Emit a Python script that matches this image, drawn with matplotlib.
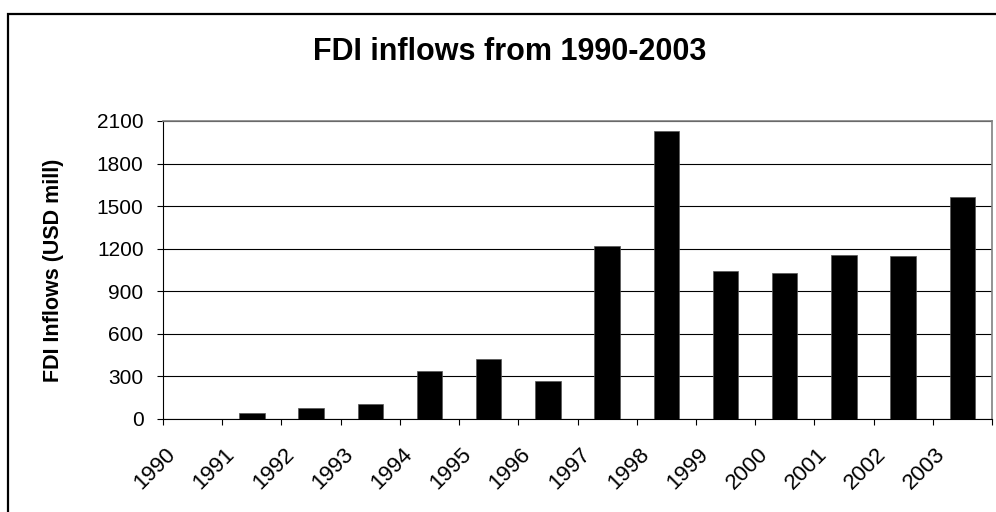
import matplotlib
matplotlib.use("Agg")
import matplotlib.pyplot as plt
import matplotlib.transforms as mtransforms
from matplotlib.patches import Rectangle

plt.rcParams["font.family"] = ["Liberation Sans", "DejaVu Sans"]

years = ["1990", "1991", "1992", "1993", "1994", "1995", "1996",
         "1997", "1998", "1999", "2000", "2001", "2002", "2003"]
inflows = [0, 42, 75, 106, 338, 423, 266,
           1220, 2030, 1045, 1030, 1158, 1146, 1567]
y_ticks = [0, 300, 600, 900, 1200, 1500, 1800, 2100]

fig = plt.figure(figsize=(9.96, 5.12), dpi=100)
ax = fig.add_axes([163 / 996, 1 - 419 / 512, (992 - 163) / 996, (419 - 121) / 512])

# bars sit in the middle of each category slot; ticks mark the slot edges
n = len(years)
centers = [i + 0.5 for i in range(n)]
ax.bar(centers, inflows, width=0.43, color="black", edgecolor="#555555",
       linewidth=0.5, zorder=3)

ax.set_xlim(0, n)
ax.set_ylim(0, 2100)
ax.set_yticks(y_ticks)
ax.set_yticklabels([str(v) for v in y_ticks], fontsize=15)
ax.yaxis.grid(True, color="black", linewidth=0.8, zorder=0)
ax.set_axisbelow(True)

ax.set_xticks(list(range(n + 1)))
ax.set_xticklabels(years + [""], fontsize=16, rotation=45,
                   ha="center", va="center")
ax.tick_params(axis="x", direction="out", length=4, width=0.8, pad=32)
ax.tick_params(axis="y", direction="out", length=4, width=0.8, pad=10)

offset = mtransforms.ScaledTranslation(-8 / 100, 0, fig.dpi_scale_trans)
for lbl in ax.get_xticklabels():
    lbl.set_transform(lbl.get_transform() + offset)

for side in ("top", "right"):
    ax.spines[side].set_color("#808080")
    ax.spines[side].set_linewidth(1.2)
for side in ("left", "bottom"):
    ax.spines[side].set_color("black")
    ax.spines[side].set_linewidth(0.8)

ax.set_ylabel("FDI Inflows (USD mill)", fontsize=15.5, fontweight="bold")
ax.yaxis.set_label_coords(-(163 - 64) / 829, 0.5)

fig.text(510 / 996, 1 - 52 / 512, "FDI inflows from 1990-2003",
         ha="center", va="center", fontsize=22, fontweight="bold")

# outer chart border (runs past the right and bottom edges)
fig.patches.append(Rectangle((7.5 / 996, -0.1), 1.2, 1 - 13.5 / 512 + 0.1,
                             transform=fig.transFigure, fill=False,
                             edgecolor="black", linewidth=1.6))

fig.savefig("out.png", dpi=100)
